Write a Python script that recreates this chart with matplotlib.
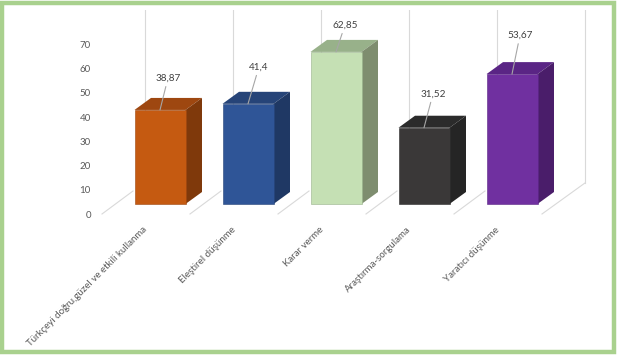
import matplotlib
matplotlib.use("Agg")
import matplotlib.pyplot as plt
import matplotlib.transforms as mtransforms
from matplotlib.patches import Polygon, Rectangle

plt.rcParams.update({"font.family": ["Lato", "DejaVu Sans"], "font.size": 7})

CATEGORIES = [
    "Türkçeyi doğru,güzel ve etkili kullanma",
    "Eleştirel düşünme",
    "Karar verme",
    "Araştırma-sorgulama",
    "Yaratıcı düşünme",
]
VALUES = [38.87, 41.4, 62.85, 31.52, 53.67]
YTICKS = [0, 10, 20, 30, 40, 50, 60, 70]

FRONT = ["#C55A11", "#2F5597", "#C5E0B4", "#3A3838", "#7030A0"]
TOP = ["#9E4710", "#264478", "#98B18A", "#2B2B2B", "#5A2585"]
SIDE = ["#7F390B", "#1F3864", "#7E8D6F", "#252525", "#4A1D6A"]

# where each value label sits, in pixels from the front top centre of its bar
LABEL_OFFSETS = [(8, 32), (11, 37), (9, 27), (9, 34), (8, 39)]

TEXT_COLOR = "#595959"
GRID_COLOR = "#D9D9D9"

# pixel geometry of the reference (dpi 100)
PX_X = 88.0   # px per category
PX_Y = 2.42   # px per value unit
BAR_W = 51 / PX_X
DEPTH_X = 16.5 / PX_X
DEPTH_Y = 12 / PX_Y

fig = plt.figure(figsize=(6.19, 3.56), dpi=100)
ax = fig.add_axes([95 / 619, (356 - 228.2) / 356, 505 / 619, 217.8 / 356])
ax.set_xlim((95 - 160) / PX_X, (600 - 160) / PX_X)
ax.set_ylim(-10, 80)
for s in ax.spines.values():
    s.set_visible(False)

# back wall and floor lines
n = len(CATEGORIES)
for k in range(n + 1):
    xb = -0.17 + k
    y0 = 8.7 if k == n else 5.0
    ax.plot([xb, xb], [y0, 80], color=GRID_COLOR, lw=0.8, zorder=1)
    fx = (102 - 160) / PX_X + k
    bx = (133 - 160) / PX_X + k if k < n else xb
    by = (204 - 191) / PX_Y if k < n else 8.7
    ax.plot([fx, bx], [-4.13, by], color=GRID_COLOR, lw=0.8, zorder=1)

# 3D-looking columns
xs = list(range(n))
ax.bar(xs, VALUES, width=BAR_W, color=FRONT, edgecolor=TOP, linewidth=0.4, zorder=3)
for i, v in enumerate(VALUES):
    l, r = i - BAR_W / 2, i + BAR_W / 2
    top = [(l, v), (r, v), (r + DEPTH_X, v + DEPTH_Y), (l + DEPTH_X, v + DEPTH_Y)]
    side = [(r, 0), (r + DEPTH_X, DEPTH_Y), (r + DEPTH_X, v + DEPTH_Y), (r, v)]
    ax.add_patch(Polygon(top, closed=True, facecolor=TOP[i], edgecolor="none", zorder=2))
    ax.add_patch(Polygon(side, closed=True, facecolor=SIDE[i], edgecolor="none", zorder=2))
    ax.annotate(
        str(v).replace(".", ","),
        xy=(i, v),
        xytext=LABEL_OFFSETS[i],
        textcoords="offset pixels",
        ha="center",
        va="center",
        color="#404040",
        fontsize=7.2,
        arrowprops=dict(arrowstyle="-", color="#A6A6A6", lw=0.8, shrinkA=1, shrinkB=0),
        zorder=5,
    )

ax.set_yticks(YTICKS)
ax.set_yticklabels([str(t) for t in YTICKS], color=TEXT_COLOR)
ax.tick_params(axis="y", length=0, pad=3)
shift_y = mtransforms.ScaledTranslation(0, -10 / 100, fig.dpi_scale_trans)
for lab in ax.get_yticklabels():
    lab.set_transform(lab.get_transform() + shift_y)

ax.set_xticks(xs)
ax.set_xticklabels(CATEGORIES, rotation=45, ha="right", va="center",
                   rotation_mode="anchor", color=TEXT_COLOR)
ax.tick_params(axis="x", length=0, pad=0)
shift_x = mtransforms.ScaledTranslation(-14 / 100, 0, fig.dpi_scale_trans)
for lab in ax.get_xticklabels():
    lab.set_transform(lab.get_transform() + shift_x)

# green frame
fig.patches.append(Rectangle((2 / 619, 4 / 356), 612 / 619, 349 / 356,
                             transform=fig.transFigure, fill=False,
                             edgecolor="#A9D18E", lw=3.2))

fig.savefig("out.png", dpi=100)
